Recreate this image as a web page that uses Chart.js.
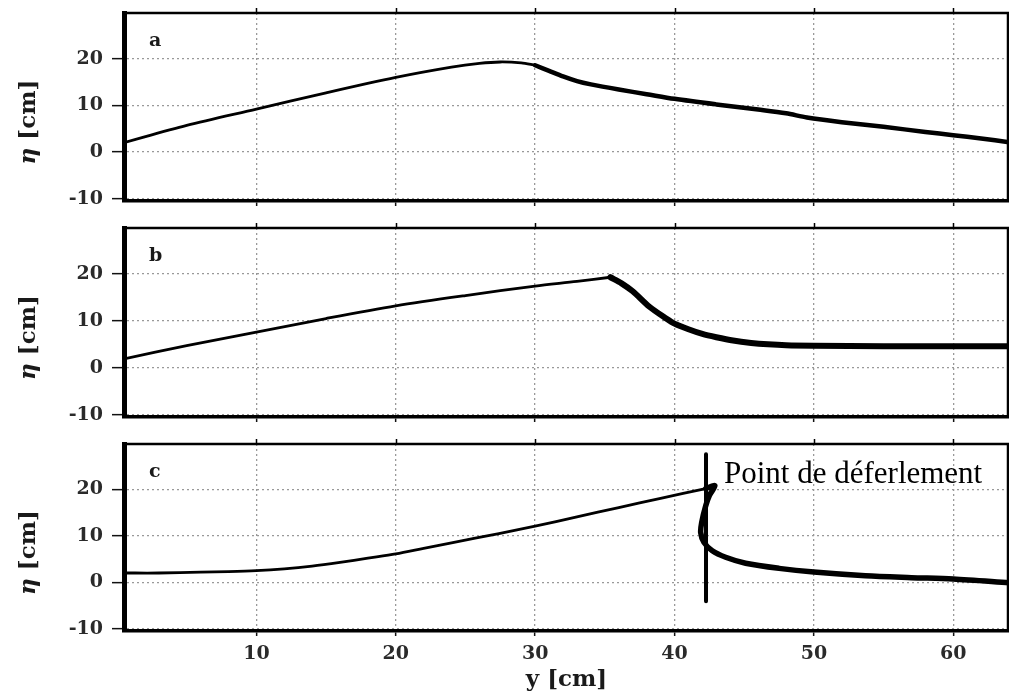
<!DOCTYPE html>
<html>
<head>
<meta charset="utf-8">
<script src="https://cdn.jsdelivr.net/npm/chart.js@4.4.0/dist/chart.umd.min.js"></script>
<style>
  body { margin: 0; background: #fff; }
  #wrap { position: relative; width: 1009px; height: 697px; overflow: hidden; }
  #wrap canvas { position: absolute; left: 0; }
</style>
</head>
<body>
<div id="wrap">
  <canvas id="panelA" width="1009" height="220" style="top:0"></canvas>
  <canvas id="panelB" width="1009" height="210" style="top:215px"></canvas>
  <canvas id="panelC" width="1009" height="266" style="top:431px"></canvas>
</div>
<script>
// axes
const xTicks = [10, 20, 30, 40, 50, 60];
const yTicks = [-10, 0, 10, 20];
const xRange = [0.5, 64];
const yRange = [-10.5, 29.8];

// panel a : rising slope, then the falling tail
const aRiseY   = [0.5, 5, 10, 15, 20, 24, 26, 27.5, 29, 30];
const aRiseEta = [2.0, 5.7, 9.2, 12.7, 16.0, 18.2, 19.0, 19.3, 19.1, 18.6];
const aFallY   = [30, 31, 32, 33, 34, 36, 38, 40, 43, 46, 48, 49.5, 52, 55, 58, 60, 62, 64];
const aFallEta = [18.6, 17.4, 16.2, 15.2, 14.5, 13.4, 12.4, 11.4, 10.2, 9.1, 8.3, 7.4, 6.4, 5.4, 4.3, 3.6, 2.9, 2.1];

// panel b
const bRiseY   = [0.5, 5, 10, 15, 20, 25, 30, 33, 35.4];
const bRiseEta = [1.9, 4.7, 7.6, 10.5, 13.2, 15.4, 17.4, 18.4, 19.3];
const bFallY   = [35.4, 36.2, 37, 38.2, 39.4, 40, 41, 42, 43, 44.2, 45.5, 46.7, 48, 50, 55, 60, 64];
const bFallEta = [19.3, 18.0, 16.3, 13.0, 10.5, 9.4, 8.2, 7.2, 6.5, 5.8, 5.3, 5.0, 4.8, 4.7, 4.6, 4.6, 4.6];

// panel c : smooth rise up to the breaking point, overturned crest, then the tail
const cRiseY   = [0.5, 3, 6, 8, 10, 12, 14, 16, 18, 20, 22, 24, 27.4, 30, 33, 36, 39, 42.24];
const cRiseEta = [2.0, 2.0, 2.2, 2.3, 2.5, 2.9, 3.5, 4.3, 5.2, 6.1, 7.3, 8.5, 10.5, 12.1, 14.1, 16.1, 18.1, 20.2];
const cBreakY   = [42.24, 42.9, 42.5, 42.24, 41.95, 41.88, 42.11, 42.71, 43.67, 45.1, 47.5, 50, 53.7, 57, 60, 64];
const cBreakEta = [20.2, 20.8, 18.7, 16.5, 12.9, 10.7, 8.6, 6.8, 5.4, 4.1, 3.0, 2.2, 1.4, 1.0, 0.7, -0.1];

// breaking point marker
const markY   = [42.26, 42.26];
const markEta = [27.6, -4.1];
const markLabel = 'Point de déferlement';
const markLabelAt = [43.55, 21.5];

const panelLetters = ['a', 'b', 'c'];

const serif = '"DejaVu Serif", serif';

function toPoints(xs, ys) {
  return xs.map((x, i) => ({ x: x, y: ys[i] }));
}

function lineSet(xs, ys, width) {
  return {
    data: toPoints(xs, ys),
    borderColor: '#000',
    borderWidth: width,
    pointRadius: 0,
    tension: 0.3,
    borderJoinStyle: 'round',
    borderCapStyle: 'round',
    fill: false
  };
}

// frame, top ticks, panel letter, y title and annotation
const framePlugin = {
  id: 'frame',
  afterDraw(chart, args, opts) {
    const { ctx, chartArea: { left, top, right, bottom }, scales: { x, y } } = chart;
    ctx.save();
    ctx.strokeStyle = '#000';
    ctx.lineWidth = 2.5;
    ctx.beginPath();
    ctx.moveTo(left, top);
    ctx.lineTo(right - 1, top);
    ctx.lineTo(right - 1, bottom);
    ctx.stroke();

    ctx.lineWidth = 1.5;
    ctx.beginPath();
    xTicks.forEach(v => {
      const px = Math.round(x.getPixelForValue(v)) + 0.5;
      ctx.moveTo(px, top);
      ctx.lineTo(px, top - 5);
    });
    ctx.stroke();

    ctx.fillStyle = '#1a1a1a';
    ctx.font = 'bold 19px ' + serif;
    ctx.textBaseline = 'alphabetic';
    ctx.fillText(opts.letter, left + 25, top + 33);

    // y title: italic eta + bold [cm]
    ctx.translate(29, (top + bottom) / 2 + 15);
    ctx.rotate(-Math.PI / 2);
    ctx.textBaseline = 'middle';
    ctx.font = 'italic bold 23px ' + serif;
    const w1 = ctx.measureText('η').width;
    ctx.font = 'bold 23px ' + serif;
    const w2 = ctx.measureText(' [cm]').width;
    const sx = -(w1 + w2) / 2;
    ctx.font = 'italic bold 23px ' + serif;
    ctx.fillText('η', sx, 0);
    ctx.font = 'bold 23px ' + serif;
    ctx.fillText(' [cm]', sx + w1, 0);
    ctx.restore();

    if (opts.label) {
      ctx.save();
      ctx.fillStyle = '#000';
      ctx.font = '31px "Liberation Serif", "Times New Roman", serif';
      ctx.textBaseline = 'alphabetic';
      ctx.fillText(opts.label, x.getPixelForValue(markLabelAt[0]), y.getPixelForValue(markLabelAt[1]));
      ctx.restore();
    }
  }
};

function makeOptions(letter, xAxisHeight, showX, label) {
  return {
    responsive: false,
    animation: false,
    layout: { padding: { top: 13, left: 0, right: 0, bottom: 0 } },
    plugins: {
      legend: { display: false },
      tooltip: { enabled: false },
      frame: { letter: letter, label: label }
    },
    scales: {
      x: {
        type: 'linear',
        min: xRange[0],
        max: xRange[1],
        afterBuildTicks: s => { s.ticks = xTicks.map(v => ({ value: v })); },
        afterFit: s => { s.height = xAxisHeight; s.paddingLeft = 0; s.paddingRight = 0; },
        ticks: {
          display: showX,
          color: '#2a2a2a',
          padding: 7,
          maxRotation: 0,
          font: { family: serif, size: 19, weight: 'bold' }
        },
        grid: {
          color: '#999',
          lineWidth: 1.3,
          borderDash: [2, 3],
          tickLength: 5,
          tickColor: '#111',
          tickWidth: 1.5,
          tickBorderDash: []
        },
        border: { display: true, color: '#000', width: 3.5, dash: [2, 3] },
        title: {
          display: showX,
          text: 'y [cm]',
          color: '#1a1a1a',
          padding: { top: 0, bottom: 3 },
          font: { family: serif, size: 23, weight: 'bold' }
        }
      },
      y: {
        min: yRange[0],
        max: yRange[1],
        afterBuildTicks: s => { s.ticks = yTicks.map(v => ({ value: v })); },
        afterFit: s => { s.width = 124; s.paddingTop = 0; s.paddingBottom = 0; },
        ticks: {
          color: '#2a2a2a',
          padding: 9,
          font: { family: serif, size: 19, weight: 'bold' }
        },
        grid: {
          color: '#999',
          lineWidth: 1.3,
          borderDash: [2, 3],
          tickLength: 12,
          tickColor: '#111',
          tickWidth: 1.5,
          tickBorderDash: []
        },
        border: { display: true, color: '#000', width: 5, dash: [2, 3] }
      }
    }
  };
}

new Chart(document.getElementById('panelA'), {
  type: 'line',
  data: {
    datasets: [
      lineSet(aRiseY, aRiseEta, 2.8),
      lineSet(aFallY, aFallEta, 4.5)
    ]
  },
  options: makeOptions(panelLetters[0], 19, false, null),
  plugins: [framePlugin]
});

new Chart(document.getElementById('panelB'), {
  type: 'line',
  data: {
    datasets: [
      lineSet(bRiseY, bRiseEta, 2.8),
      lineSet(bFallY, bFallEta, 6)
    ]
  },
  options: makeOptions(panelLetters[1], 8, false, null),
  plugins: [framePlugin]
});

const markSet = lineSet(markY, markEta, 4);
markSet.tension = 0;
markSet.borderCapStyle = 'butt';

new Chart(document.getElementById('panelC'), {
  type: 'line',
  data: {
    datasets: [
      lineSet(cRiseY, cRiseEta, 2.8),
      lineSet(cBreakY, cBreakEta, 5.5),
      markSet
    ]
  },
  options: makeOptions(panelLetters[2], 66, true, markLabel),
  plugins: [framePlugin]
});
</script>
</body>
</html>
